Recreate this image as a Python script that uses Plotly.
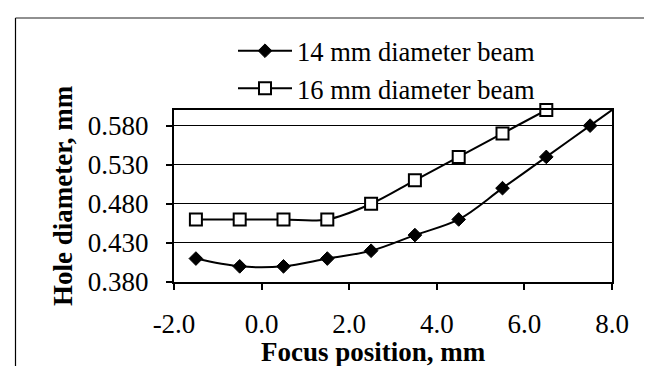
import plotly.graph_objects as go

# ---- data ----
x_14 = [-1.5, -0.5, 0.5, 1.5, 2.5, 3.5, 4.5, 5.5, 6.5, 7.5, 8.5]
y_14 = [0.41, 0.40, 0.40, 0.41, 0.42, 0.44, 0.46, 0.50, 0.54, 0.58, 0.62]
x_16 = [-1.5, -0.5, 0.5, 1.5, 2.5, 3.5, 4.5, 5.5, 6.5]
y_16 = [0.46, 0.46, 0.46, 0.46, 0.48, 0.51, 0.54, 0.57, 0.60]
series_names = ["14 mm diameter beam", "16 mm diameter beam"]
x_tickvals = [-2, 0, 2, 4, 6, 8]
x_ticktext = ["-2.0", "0.0", "2.0", "4.0", "6.0", "8.0"]
y_tickvals = [0.38, 0.43, 0.48, 0.53, 0.58]
y_ticktext = ["0.380", "0.430", "0.480", "0.530", "0.580"]
x_title = "Focus position, mm"
y_title = "Hole diameter, mm"

FONT = "Liberation Serif"
W, H = 652, 366
ML, MR, MT, MB = 166, 48, 102, 92
PW, PH = W - ML - MR, H - MT - MB

def px_x(p):
    return (p - ML) / PW

def px_y(p):
    return (H - MB - p) / PH

fig = go.Figure()
fig.add_trace(go.Scatter(
    x=x_14, y=y_14, name=series_names[0], mode="lines+markers",
    line=dict(color="black", width=2, shape="spline", smoothing=1),
    marker=dict(symbol="diamond", size=10.5, color="black",
                line=dict(color="black", width=1)),
))
fig.add_trace(go.Scatter(
    x=x_16, y=y_16, name=series_names[1], mode="lines+markers",
    line=dict(color="black", width=2, shape="spline", smoothing=1),
    marker=dict(symbol="square", size=12, color="white",
                line=dict(color="black", width=2)),
    cliponaxis=False,
))

axis_common = dict(
    showline=True, linecolor="black", linewidth=2, mirror=True,
    ticks="outside", ticklen=6, tickwidth=1.5, tickcolor="black",
    tickfont=dict(family=FONT, size=27, color="black"),
    zeroline=False,
)
fig.update_xaxes(range=[-2, 8], tickvals=x_tickvals, ticktext=x_ticktext,
                 showgrid=False, ticklabelstandoff=11, **axis_common)
fig.update_yaxes(range=[0.38, 0.60], tickvals=y_tickvals, ticktext=y_ticktext,
                 showgrid=True, gridcolor="black", gridwidth=1,
                 ticklabelstandoff=12, **axis_common)

fig.update_layout(
    width=W, height=H,
    margin=dict(l=ML, r=MR, t=MT, b=MB, pad=0),
    paper_bgcolor="white", plot_bgcolor="white",
    font=dict(family=FONT, color="black"),
    showlegend=True,
    legend=dict(
        x=px_x(225), y=px_y(19), xanchor="left", yanchor="top",
        bgcolor="rgba(0,0,0,0)", borderwidth=0,
        font=dict(family=FONT, size=26.5, color="black"),
        tracegroupgap=0, itemwidth=54,
    ),
    annotations=[
        dict(text="<b>%s</b>" % x_title, xref="paper", yref="paper",
             x=px_x(365), y=px_y(344), xanchor="center", yanchor="middle",
             showarrow=False, font=dict(family=FONT, size=27, color="black")),
        dict(text="<b>%s</b>" % y_title, xref="paper", yref="paper",
             x=px_x(55), y=px_y(188), xanchor="center", yanchor="middle",
             textangle=-90, showarrow=False,
             font=dict(family=FONT, size=27, color="black")),
    ],
    shapes=[
        dict(type="line", xref="paper", yref="paper",
             x0=px_x(7.5), x1=px_x(7.5), y0=px_y(10), y1=px_y(380),
             line=dict(color="black", width=1.2)),
        dict(type="line", xref="paper", yref="paper",
             x0=px_x(7.5), x1=px_x(680), y0=px_y(10), y1=px_y(10),
             line=dict(color="#222", width=1.2)),
    ],
)

fig.write_html("out.html")
